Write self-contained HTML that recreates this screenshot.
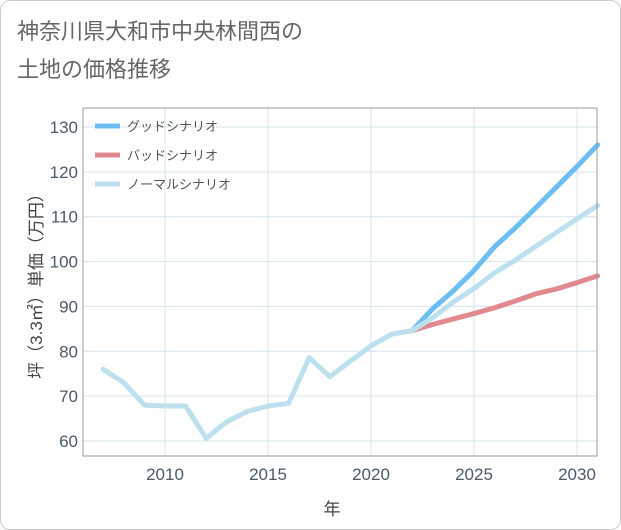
<!DOCTYPE html>
<html><head><meta charset="utf-8"><style>
body{margin:0;background:#fff;font-family:"Liberation Sans","Noto Sans CJK JP",sans-serif;}
#wrap{position:relative;width:619px;height:528px;border:1px solid #ccc;border-radius:10px;overflow:hidden;background:#fff}
</style></head><body>
<div id="wrap">
<svg id="chart" width="621" height="530" style="position:absolute;left:-1px;top:-1px">
<text x="17" y="39" font-size="22" fill="#666">神奈川県大和市中央林間西の</text>
<text x="17" y="77" font-size="22" fill="#666">土地の価格推移</text>
<g id="grid"></g><g id="series"></g><g id="axes"></g>
<text x="332" y="515" font-size="17" fill="#444" text-anchor="middle">年</text>
<text transform="translate(42,282) rotate(-90)" font-size="17" fill="#444" text-anchor="middle">坪（3.3㎡）単価（万円）</text>
</svg>
</div>
<script>
const years=[2007,2008,2009,2010,2011,2012,2013,2014,2015,2016,2017,2018,2019,2020,2021,2022];
const history=[76,73,68,67.8,67.8,60.6,64.3,66.6,67.8,68.4,78.6,74.3,77.8,81.2,83.8,84.6];
const futureYears=[2022,2023,2024,2025,2026,2027,2028,2029,2030,2031];
const good=[84.6,89.5,93.5,98,103.3,107.5,112,116.6,121.2,126];
const bad=[84.6,86,87.2,88.4,89.7,91.2,92.8,93.9,95.3,96.8];
const normal=[84.6,87.5,91,94,97.5,100.3,103.4,106.5,109.5,112.5];
const xTicks=[2010,2015,2020,2025,2030];
const yTicks=[60,70,80,90,100,110,120,130];
const legendLabels=["グッドシナリオ","バッドシナリオ","ノーマルシナリオ"];
const L=83,R=597,T=108,B=456;
const xs=y=>165+(y-2010)*20.6;
const ys=v=>441-(v-60)*4.486;
const NS="http://www.w3.org/2000/svg";
function mk(p,tag,attrs){const e=document.createElementNS(NS,tag);for(const k in attrs)e.setAttribute(k,attrs[k]);p.appendChild(e);return e;}
const grid=document.getElementById('grid'),ser=document.getElementById('series'),ax=document.getElementById('axes');
xTicks.forEach(y=>{const l=mk(grid,'line',{x1:xs(y),x2:xs(y),y1:T,y2:B,stroke:'#d6e4ee','stroke-width':1});
});
yTicks.forEach(v=>{const l=mk(grid,'line',{x1:L,x2:R,y1:ys(v),y2:ys(v),stroke:'#d6e4ee','stroke-width':1});
});
const frame=mk(ax,'rect',{x:L,y:T,width:R-L,height:B-T,fill:'none',stroke:'#999','stroke-width':1});

xTicks.forEach(t=>{const e=mk(ax,'text',{x:xs(t),y:480,'font-size':17,fill:'#4a5a6a','text-anchor':'middle'});e.textContent=t;
});
yTicks.forEach(t=>{const e=mk(ax,'text',{x:78,y:ys(t)+6,'font-size':17,fill:'#4a5a6a','text-anchor':'end'});e.textContent=t;
});
function line(xv,yv,c,name){const p=mk(ser,'polyline',{points:xv.map((x,i)=>xs(x)+','+ys(yv[i])).join(' '),fill:'none',stroke:c,'stroke-width':5,'stroke-linejoin':'round','stroke-linecap':'round'});
}
line(futureYears,good,'#6bbdf2','good-scenario-line');
line(futureYears,bad,'#e08a8f','bad-scenario-line');
line(futureYears,normal,'#bde0ef','normal-scenario-line');
line(years,history,'#bde0ef','history-line');
const cols=['#6bbdf2','#e08a8f','#bde0ef'];
legendLabels.forEach((lab,i)=>{const y=126+i*29;
const l=mk(ax,'line',{x1:95,x2:120,y1:y,y2:y,stroke:cols[i],'stroke-width':5});

const t=mk(ax,'text',{x:127,y:y+5,'font-size':13,fill:'#555'});t.textContent=lab;
});
</script>
</body></html>
